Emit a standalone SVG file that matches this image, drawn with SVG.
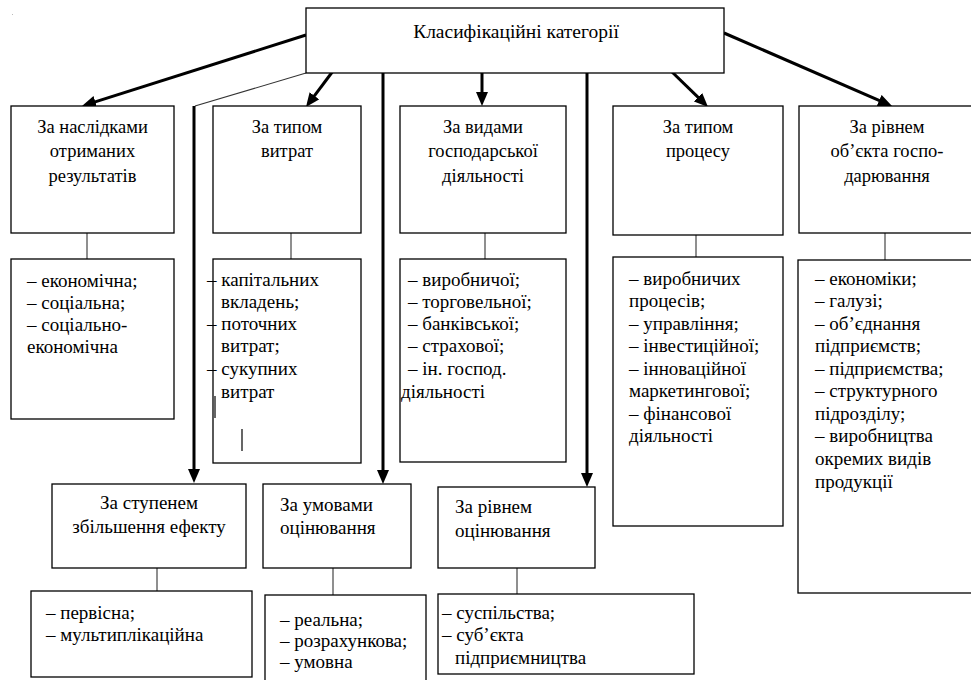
<svg xmlns="http://www.w3.org/2000/svg" width="971" height="680" viewBox="0 0 971 680">
<style>
  .box { fill: #fff; stroke: #000; stroke-width: 1.3; }
  .thin { stroke: #333; stroke-width: 1.1; fill: none; }
  .arrow { stroke: #000; stroke-width: 3; fill: none; }
  text { font-family: 'Liberation Serif', 'Times New Roman', serif; font-size: 18.5px; fill: #000; }
  .li { font-size: 19px; }
  .c { text-anchor: middle; }
</style>
<defs>
  <marker id="ah" viewBox="0 0 14 12" refX="6" refY="6" markerWidth="14" markerHeight="12" markerUnits="userSpaceOnUse" orient="auto">
    <path d="M0,0 L14,6 L0,12 Z" fill="#000"/>
  </marker>
</defs>
<rect x="12" y="14" width="1" height="1" fill="#bbb"/>

<g id="connectors">
  <line class="arrow" x1="306" y1="35" x2="89.6" y2="103.6" marker-end="url(#ah)"/>
  <line class="thin" x1="306" y1="73" x2="195" y2="106"/>
  <line class="arrow" x1="194" y1="106" x2="194" y2="475" marker-end="url(#ah)"/>
  <line class="arrow" x1="333" y1="71" x2="310.8" y2="100.6" marker-end="url(#ah)"/>
  <line class="arrow" x1="383" y1="73" x2="383" y2="476" marker-end="url(#ah)"/>
  <line class="arrow" x1="482" y1="73" x2="482" y2="98" marker-end="url(#ah)"/>
  <line class="arrow" x1="587" y1="73" x2="587" y2="479" marker-end="url(#ah)"/>
  <line class="arrow" x1="671" y1="71" x2="702.3" y2="101.4" marker-end="url(#ah)"/>
  <line class="arrow" x1="724" y1="33" x2="884.7" y2="102.8" marker-end="url(#ah)"/>
  <line class="thin" x1="87" y1="233" x2="87" y2="259"/>
  <line class="thin" x1="291" y1="233" x2="291" y2="259"/>
  <line class="thin" x1="485" y1="233" x2="485" y2="259"/>
  <line class="thin" x1="696" y1="235" x2="696" y2="257"/>
  <line class="thin" x1="885" y1="233" x2="885" y2="260"/>
  <line class="thin" x1="157" y1="568" x2="157" y2="591"/>
  <line class="thin" x1="333" y1="568" x2="333" y2="595"/>
  <line class="thin" x1="517" y1="568" x2="517" y2="594"/>
</g>

<g id="root">
  <rect class="box" x="306" y="8" width="418" height="65"/>
  <text class="c" x="516" y="38" style="font-size:19.5px">Класифікаційні категорії</text>
</g>

<g id="n1">
  <rect class="box" x="11" y="106" width="163" height="127"/>
  <text class="c" x="92.5" y="133">За наслідками</text>
  <text class="c" x="92.5" y="157">отриманих</text>
  <text class="c" x="92.5" y="182">результатів</text>
</g>
<g id="n2">
  <rect class="box" x="213" y="106" width="148" height="127"/>
  <text class="c" x="287" y="133">За типом</text>
  <text class="c" x="287" y="157">витрат</text>
</g>
<g id="n3">
  <rect class="box" x="400" y="106" width="166" height="127"/>
  <text class="c" x="483" y="133">За видами</text>
  <text class="c" x="483" y="157">господарської</text>
  <text class="c" x="483" y="182">діяльності</text>
</g>
<g id="n4">
  <rect class="box" x="613" y="106" width="170" height="129"/>
  <text class="c" x="698" y="133">За типом</text>
  <text class="c" x="698" y="157">процесу</text>
</g>
<g id="n5">
  <rect class="box" x="799" y="106" width="180" height="127"/>
  <text class="c" x="887" y="133">За рівнем</text>
  <text class="c" x="887" y="157">об’єкта госпо-</text>
  <text class="c" x="887" y="182">дарювання</text>
</g>

<g id="l1">
  <rect class="box" x="11" y="259" width="163" height="160"/>
  <text class="li" x="27" y="287">– економічна;</text>
  <text class="li" x="27" y="309">– соціальна;</text>
  <text class="li" x="27" y="331">– соціально-</text>
  <text class="li" x="27" y="353">економічна</text>
</g>
<g id="l2">
  <rect class="box" x="213" y="259" width="148" height="204"/>
  <text class="li" x="207" y="286">– капітальних</text>
  <text class="li" x="221" y="308">вкладень;</text>
  <text class="li" x="207" y="330">– поточних</text>
  <text class="li" x="221" y="352">витрат;</text>
  <text class="li" x="207" y="375">– сукупних</text>
  <text class="li" x="221" y="398">витрат</text>
  <line x1="215" y1="396" x2="215" y2="418" stroke="#000" stroke-width="1.2"/>
  <line x1="242" y1="429" x2="242" y2="451" stroke="#000" stroke-width="1.2"/>
</g>
<g id="l3">
  <rect class="box" x="400" y="259" width="166" height="203"/>
  <text class="li" x="408" y="286">– виробничої;</text>
  <text class="li" x="408" y="308">– торговельної;</text>
  <text class="li" x="408" y="330">– банківської;</text>
  <text class="li" x="408" y="352">– страхової;</text>
  <text class="li" x="408" y="375">– ін. господ.</text>
  <text class="li" x="401" y="398">діяльності</text>
</g>
<g id="l4">
  <rect class="box" x="613" y="257" width="170" height="269"/>
  <text class="li" x="629" y="285">– виробничих</text>
  <text class="li" x="629" y="307">процесів;</text>
  <text class="li" x="629" y="330">– управління;</text>
  <text class="li" x="629" y="352">– інвестиційної;</text>
  <text class="li" x="629" y="375">– інноваційної</text>
  <text class="li" x="629" y="397">маркетингової;</text>
  <text class="li" x="629" y="420">– фінансової</text>
  <text class="li" x="629" y="442">діяльності</text>
</g>
<g id="l5">
  <rect class="box" x="798" y="260" width="180" height="333"/>
  <text class="li" x="815" y="285">– економіки;</text>
  <text class="li" x="815" y="307">– галузі;</text>
  <text class="li" x="815" y="330">– об’єднання</text>
  <text class="li" x="815" y="352">підприємств;</text>
  <text class="li" x="815" y="375">– підприємства;</text>
  <text class="li" x="815" y="397">– структурного</text>
  <text class="li" x="815" y="420">підрозділу;</text>
  <text class="li" x="815" y="442">– виробництва</text>
  <text class="li" x="815" y="465">окремих видів</text>
  <text class="li" x="815" y="488">продукції</text>
</g>

<g id="n6">
  <rect class="box" x="52" y="484" width="194" height="84"/>
  <text class="c li" x="149" y="509">За ступенем</text>
  <text class="c li" x="149" y="533">збільшення ефекту</text>
</g>
<g id="n7">
  <rect class="box" x="263" y="484" width="148" height="84"/>
  <text class="li" x="280" y="511">За умовами</text>
  <text class="li" x="280" y="534">оцінювання</text>
</g>
<g id="n8">
  <rect class="box" x="438" y="487" width="157" height="81"/>
  <text class="li" x="455" y="513">За рівнем</text>
  <text class="li" x="455" y="537">оцінювання</text>
</g>

<g id="l6">
  <rect class="box" x="31" y="591" width="221" height="86"/>
  <text class="li" x="46" y="619">– первісна;</text>
  <text class="li" x="46" y="641">– мультиплікаційна</text>
</g>
<g id="l7">
  <rect class="box" x="265" y="595" width="161" height="100"/>
  <text class="li" x="280" y="626">– реальна;</text>
  <text class="li" x="280" y="647">– розрахункова;</text>
  <text class="li" x="280" y="668">– умовна</text>
</g>
<g id="l8">
  <rect class="box" x="438" y="594" width="256" height="80"/>
  <text class="li" x="442" y="619">– суспільства;</text>
  <text class="li" x="442" y="641">– суб’єкта</text>
  <text class="li" x="455" y="664">підприємництва</text>
</g>
</svg>
